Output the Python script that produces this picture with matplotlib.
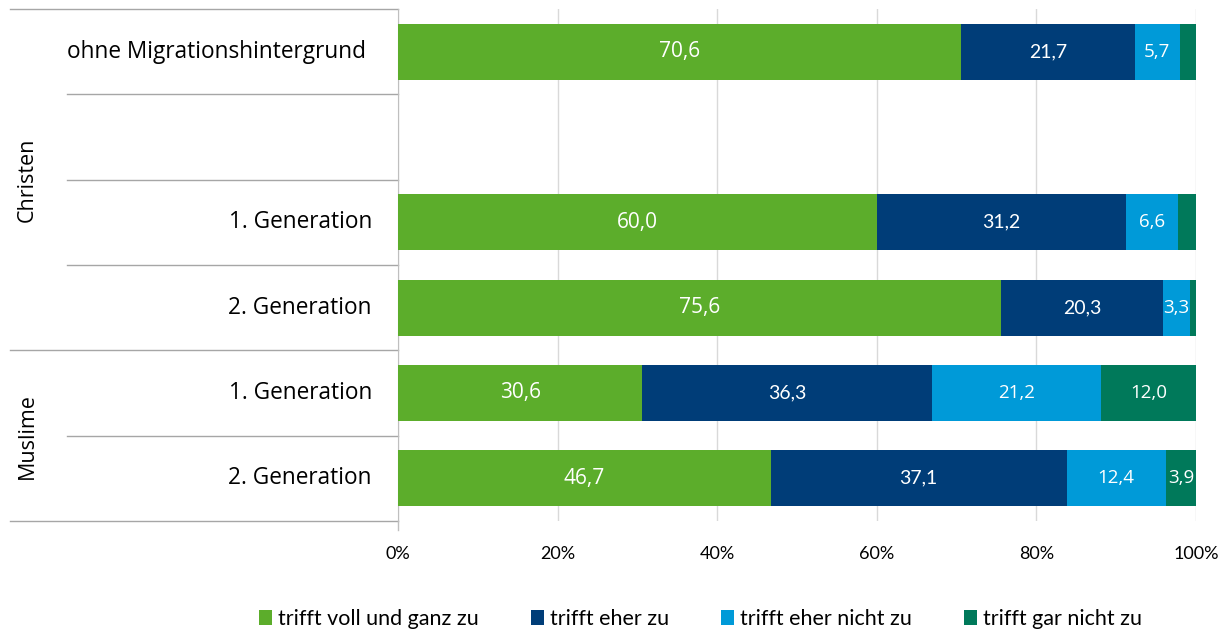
import matplotlib as mpl
from matplotlib import pyplot as plt
import numpy as np

# Daten (Anteile in %)
rows = ["ohne Migrationshintergrund", "", "1. Generation", "2. Generation",
        "1. Generation", "2. Generation"]
groups = ["Christen", "Muslime"]
series = ["trifft voll und ganz zu", "trifft eher zu",
          "trifft eher nicht zu", "trifft gar nicht zu"]
voll = [70.6, 0, 60.0, 75.6, 30.6, 46.7]
eher = [21.7, 0, 31.2, 20.3, 36.3, 37.1]
eher_nicht = [5.7, 0, 6.6, 3.3, 21.2, 12.4]
gar_nicht = [2.0, 0, 2.2, 0.8, 12.0, 3.9]
xticks = [0, 20, 40, 60, 80, 100]

colours = ["#5CAD2B", "#003D78", "#009AD8", "#00795A"]
# label fonts per series (as in the original)
label_fonts = [(['Open Sans', 'DejaVu Sans'], 15), (['Lato', 'DejaVu Sans'], 14),
               (['Open Sans', 'DejaVu Sans'], 13.5), (['Open Sans', 'DejaVu Sans'], 13.5)]

mpl.rc('font', family=['Open Sans', 'DejaVu Sans'], size=12)

fig = plt.figure(figsize=(12.27, 6.32), dpi=100)
ax = fig.add_axes([398 / 1227, 1 - 521 / 632, 798 / 1227, 512 / 632])

y = np.arange(len(rows))
left = np.zeros(len(rows))
for vals, col, name, (fam, fs) in zip([voll, eher, eher_nicht, gar_nicht], colours,
                                      series, label_fonts):
    vals = np.array(vals)
    bars = ax.barh(y, vals, left=left, height=0.66, color=col, label=name, zorder=3)
    for b, v in zip(bars, vals):
        if v >= 3:
            ax.text(b.get_x() + b.get_width() / 2, b.get_y() + b.get_height() / 2,
                    f"{v:.1f}".replace(".", ","), color="white", ha="center",
                    va="center", fontsize=fs, family=fam, zorder=4)
    left += vals

ax.set_xlim(0, 100)
ax.set_ylim(len(rows) - 0.5, -0.5)
ax.set_xticks(xticks)
ax.set_xticklabels([f"{t}%" for t in xticks], family=['Lato', 'DejaVu Sans'], fontsize=13)
ax.set_yticks([])
ax.grid(axis='x', color="#D9D9D9", linewidth=1, zorder=0)
for s in ["top", "right", "bottom"]:
    ax.spines[s].set_visible(False)
ax.spines["left"].set_color("#BFBFBF")
ax.tick_params(axis='x', length=0, pad=18)

# Kategorieachse links
trans = mpl.transforms.blended_transform_factory(ax.transAxes, ax.transData)
for b in np.arange(-0.5, len(rows) + 0.5, 1):
    x0 = -0.486 if b in (-0.5, 3.5, 5.5) else -0.415
    ax.plot([x0, 0], [b, b], color="#A6A6A6", linewidth=1, transform=trans, clip_on=False)
ax.plot([0, 0], [5.5, 5.6], color="#BFBFBF", linewidth=1, transform=trans, clip_on=False)

for i, r in enumerate(rows):
    if r:
        xr = -0.040 if i == 0 else -0.0326
        ax.text(xr, i, r, ha="right", va="center", fontsize=16.3, transform=trans)
ax.text(-0.465, 1.5, groups[0], rotation=90, ha="center", va="center",
        fontsize=15.5, transform=trans)
ax.text(-0.465, 4.5, groups[1], rotation=90, ha="center", va="center",
        fontsize=15.5, transform=trans)

fig.legend(loc="center", bbox_to_anchor=(0.571, 1 - 619 / 632), ncol=4, frameon=False,
           handlelength=0.6, handleheight=0.75, handletextpad=0.3, columnspacing=2.4,
           prop={'family': ['Lato', 'DejaVu Sans'], 'size': 15.5})

fig.savefig("out.png", dpi=100)
